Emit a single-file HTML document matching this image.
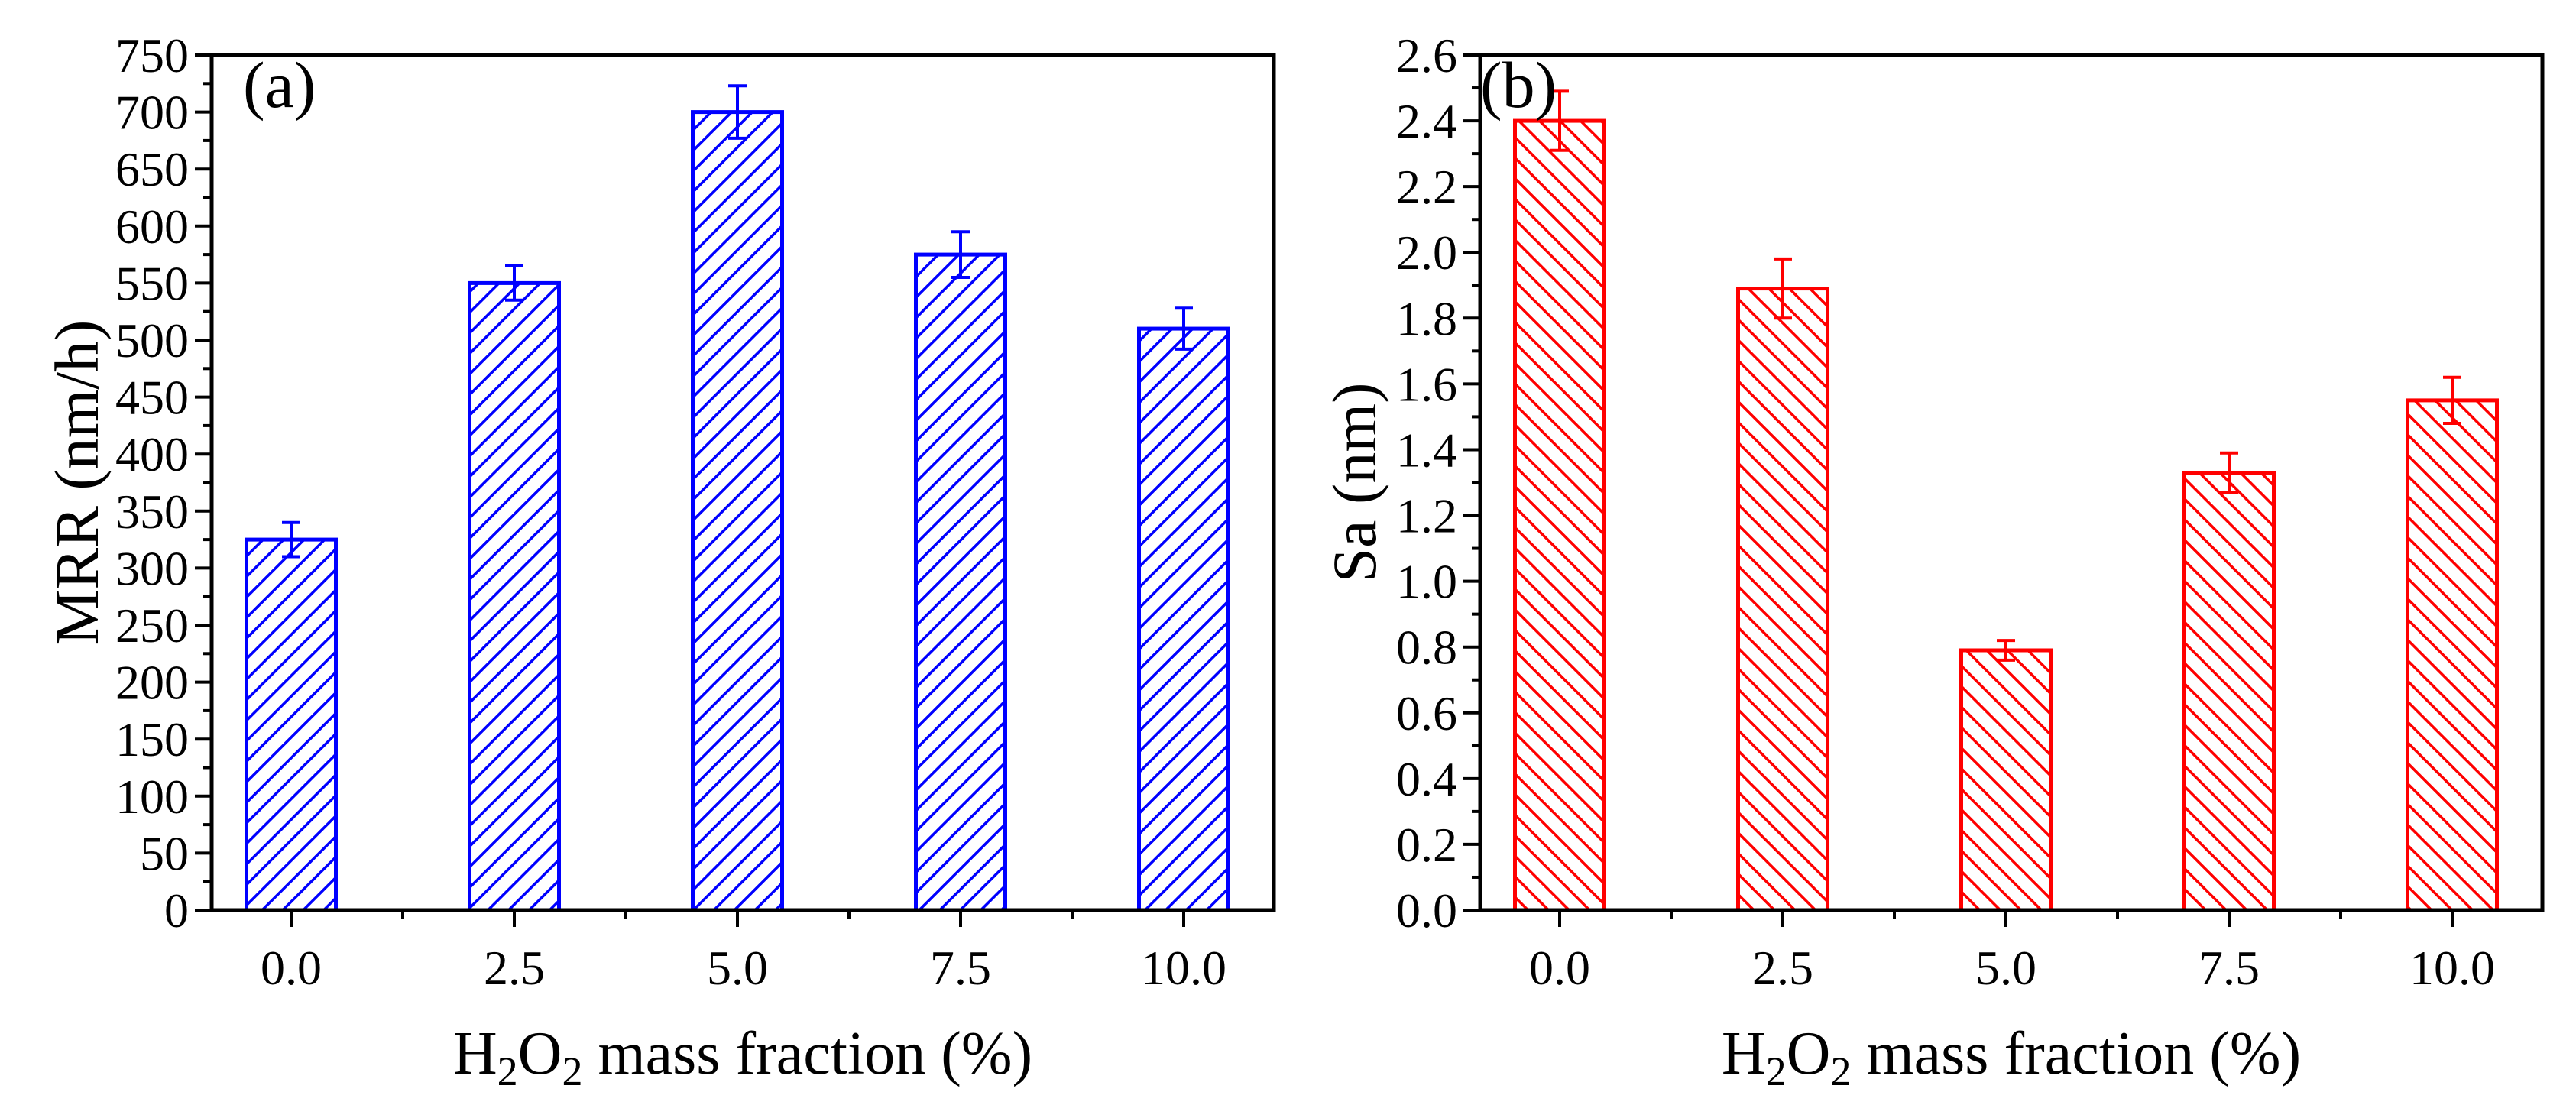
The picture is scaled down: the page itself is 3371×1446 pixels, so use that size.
<!DOCTYPE html>
<html><head><meta charset="utf-8"><style>
html,body{margin:0;padding:0;background:#fff;}
svg{display:block;}
text{font-family:"Liberation Serif","Times New Roman",serif;}
</style></head><body>
<svg id="fig" width="3371" height="1446" viewBox="0 0 3371 1446" xmlns="http://www.w3.org/2000/svg" font-family="Liberation Serif, serif">
<defs>
<pattern id="hatchBlue" patternUnits="userSpaceOnUse" width="19" height="19" patternTransform="rotate(45)">
<rect width="19" height="19" fill="#fff"/><line x1="0" y1="0" x2="0" y2="19" stroke="#0000ff" stroke-width="7"/>
</pattern>
<pattern id="hatchRed" patternUnits="userSpaceOnUse" width="19" height="19" patternTransform="rotate(-45)">
<rect width="19" height="19" fill="#fff"/><line x1="0" y1="0" x2="0" y2="19" stroke="#ff0000" stroke-width="7"/>
</pattern>
</defs>
<g id="panelA"></g>
<g id="panelB"></g>
</svg>
<script>
const categories = ["0.0","2.5","5.0","7.5","10.0"];
const mrrValues = [325, 550, 700, 575, 510];
const mrrErrors = [15, 15, 23, 20, 18];
const saValues = [2.40, 1.89, 0.79, 1.33, 1.55];
const saErrors = [0.09, 0.09, 0.03, 0.06, 0.07];
const mrrTicks = [0,50,100,150,200,250,300,350,400,450,500,550,600,650,700,750];
const saTicks = [0,0.2,0.4,0.6,0.8,1.0,1.2,1.4,1.6,1.8,2.0,2.2,2.4,2.6];

const NS = "http://www.w3.org/2000/svg";
const FONT = "'Liberation Serif', 'Times New Roman', serif";
function mk(tag, attrs, parent){
  const e = document.createElementNS(NS, tag);
  for (const k in attrs) e.setAttribute(k, attrs[k]);
  if (tag === "text") e.setAttribute("font-family", FONT);
  parent.appendChild(e);
  return e;
}

function drawPanel(g, opt){
  const L = opt.left, R = opt.left + 1390, T = 72, B = 1191;
  const yScale = v => B - (v - opt.ymin) / (opt.ymax - opt.ymin) * (B - T);
  const xScale = i => L + 104 + i * 292;
  const bw = 117;
  opt.values.forEach((v, i) => {
    const x = xScale(i) - bw/2, y = yScale(v);
    const r = mk("rect", {x: x, y: y, width: bw, height: B - y, fill: opt.fill, stroke: opt.color, "stroke-width": 5}, g);
    
    
  });
  opt.values.forEach((v, i) => {
    const cx = xScale(i), y1 = yScale(v + opt.errors[i]), y2 = yScale(v - opt.errors[i]);
    const eg = mk("g", {stroke: opt.color, "stroke-width": 4}, g);
    
    
    mk("line", {x1: cx, y1: y1, x2: cx, y2: y2}, eg);
    mk("line", {x1: cx-12, y1: y1, x2: cx+12, y2: y1}, eg);
    mk("line", {x1: cx-12, y1: y2, x2: cx+12, y2: y2}, eg);
  });
  const f = mk("rect", {x: L, y: T, width: R-L, height: B-T, fill: "none", stroke: "#000", "stroke-width": 5}, g);
  
  
  const step = opt.ticks[1] - opt.ticks[0];
  opt.ticks.forEach((t, i) => {
    const y = yScale(t);
    mk("line", {x1: L-22, y1: y, x2: L, y2: y, stroke: "#000", "stroke-width": 4}, g);
    if (i < opt.ticks.length - 1) {
      const ym = yScale(t + step/2);
      mk("line", {x1: L-11, y1: ym, x2: L, y2: ym, stroke: "#000", "stroke-width": 4}, g);
    }
    const tx = mk("text", {x: L-30, y: y+22, "font-size": 64, "text-anchor": "end", fill: "#000"}, g);
    tx.textContent = opt.fmt(t);
    
    
  });
  categories.forEach((c, i) => {
    const x = xScale(i);
    mk("line", {x1: x, y1: B, x2: x, y2: B+22, stroke: "#000", "stroke-width": 4}, g);
    if (i < categories.length - 1) {
      const xm = x + 146;
      mk("line", {x1: xm, y1: B, x2: xm, y2: B+11, stroke: "#000", "stroke-width": 4}, g);
    }
    const tx = mk("text", {x: x, y: 1288, "font-size": 64, "text-anchor": "middle", fill: "#000"}, g);
    tx.textContent = c;
    
    
  });
  const xt = mk("text", {x: (L+R)/2, y: 1405, "font-size": 80, "text-anchor": "middle", fill: "#000"}, g);
  xt.innerHTML = 'H<tspan font-size="54" dy="15">2</tspan><tspan dy="-15">O</tspan><tspan font-size="54" dy="15">2</tspan><tspan dy="-15"> mass fraction (%)</tspan>';
  
  
  const yt = mk("text", {x: 0, y: 0, "font-size": 82, "text-anchor": "middle", fill: "#000", transform: "translate(" + opt.ytx + "," + ((T+B)/2) + ") rotate(-90)"}, g);
  yt.textContent = opt.ytitle;
  
  
  const pl = mk("text", {x: opt.labelX, y: 140, "font-size": 86, fill: "#000"}, g);
  pl.textContent = opt.label;
  
  
}

drawPanel(document.getElementById("panelA"), {
  left: 277, ymin: 0, ymax: 750, values: mrrValues, errors: mrrErrors, ticks: mrrTicks,
  fmt: t => String(t), color: "#0000ff", fill: "url(#hatchBlue)", ytitle: "MRR (nm/h)", ytx: 128,
  label: "(a)", labelX: 318
});
drawPanel(document.getElementById("panelB"), {
  left: 1937, ymin: 0, ymax: 2.6, values: saValues, errors: saErrors, ticks: saTicks,
  fmt: t => t.toFixed(1), color: "#ff0000", fill: "url(#hatchRed)", ytitle: "Sa (nm)", ytx: 1800,
  label: "(b)", labelX: 1937
});
</script>
</body></html>
